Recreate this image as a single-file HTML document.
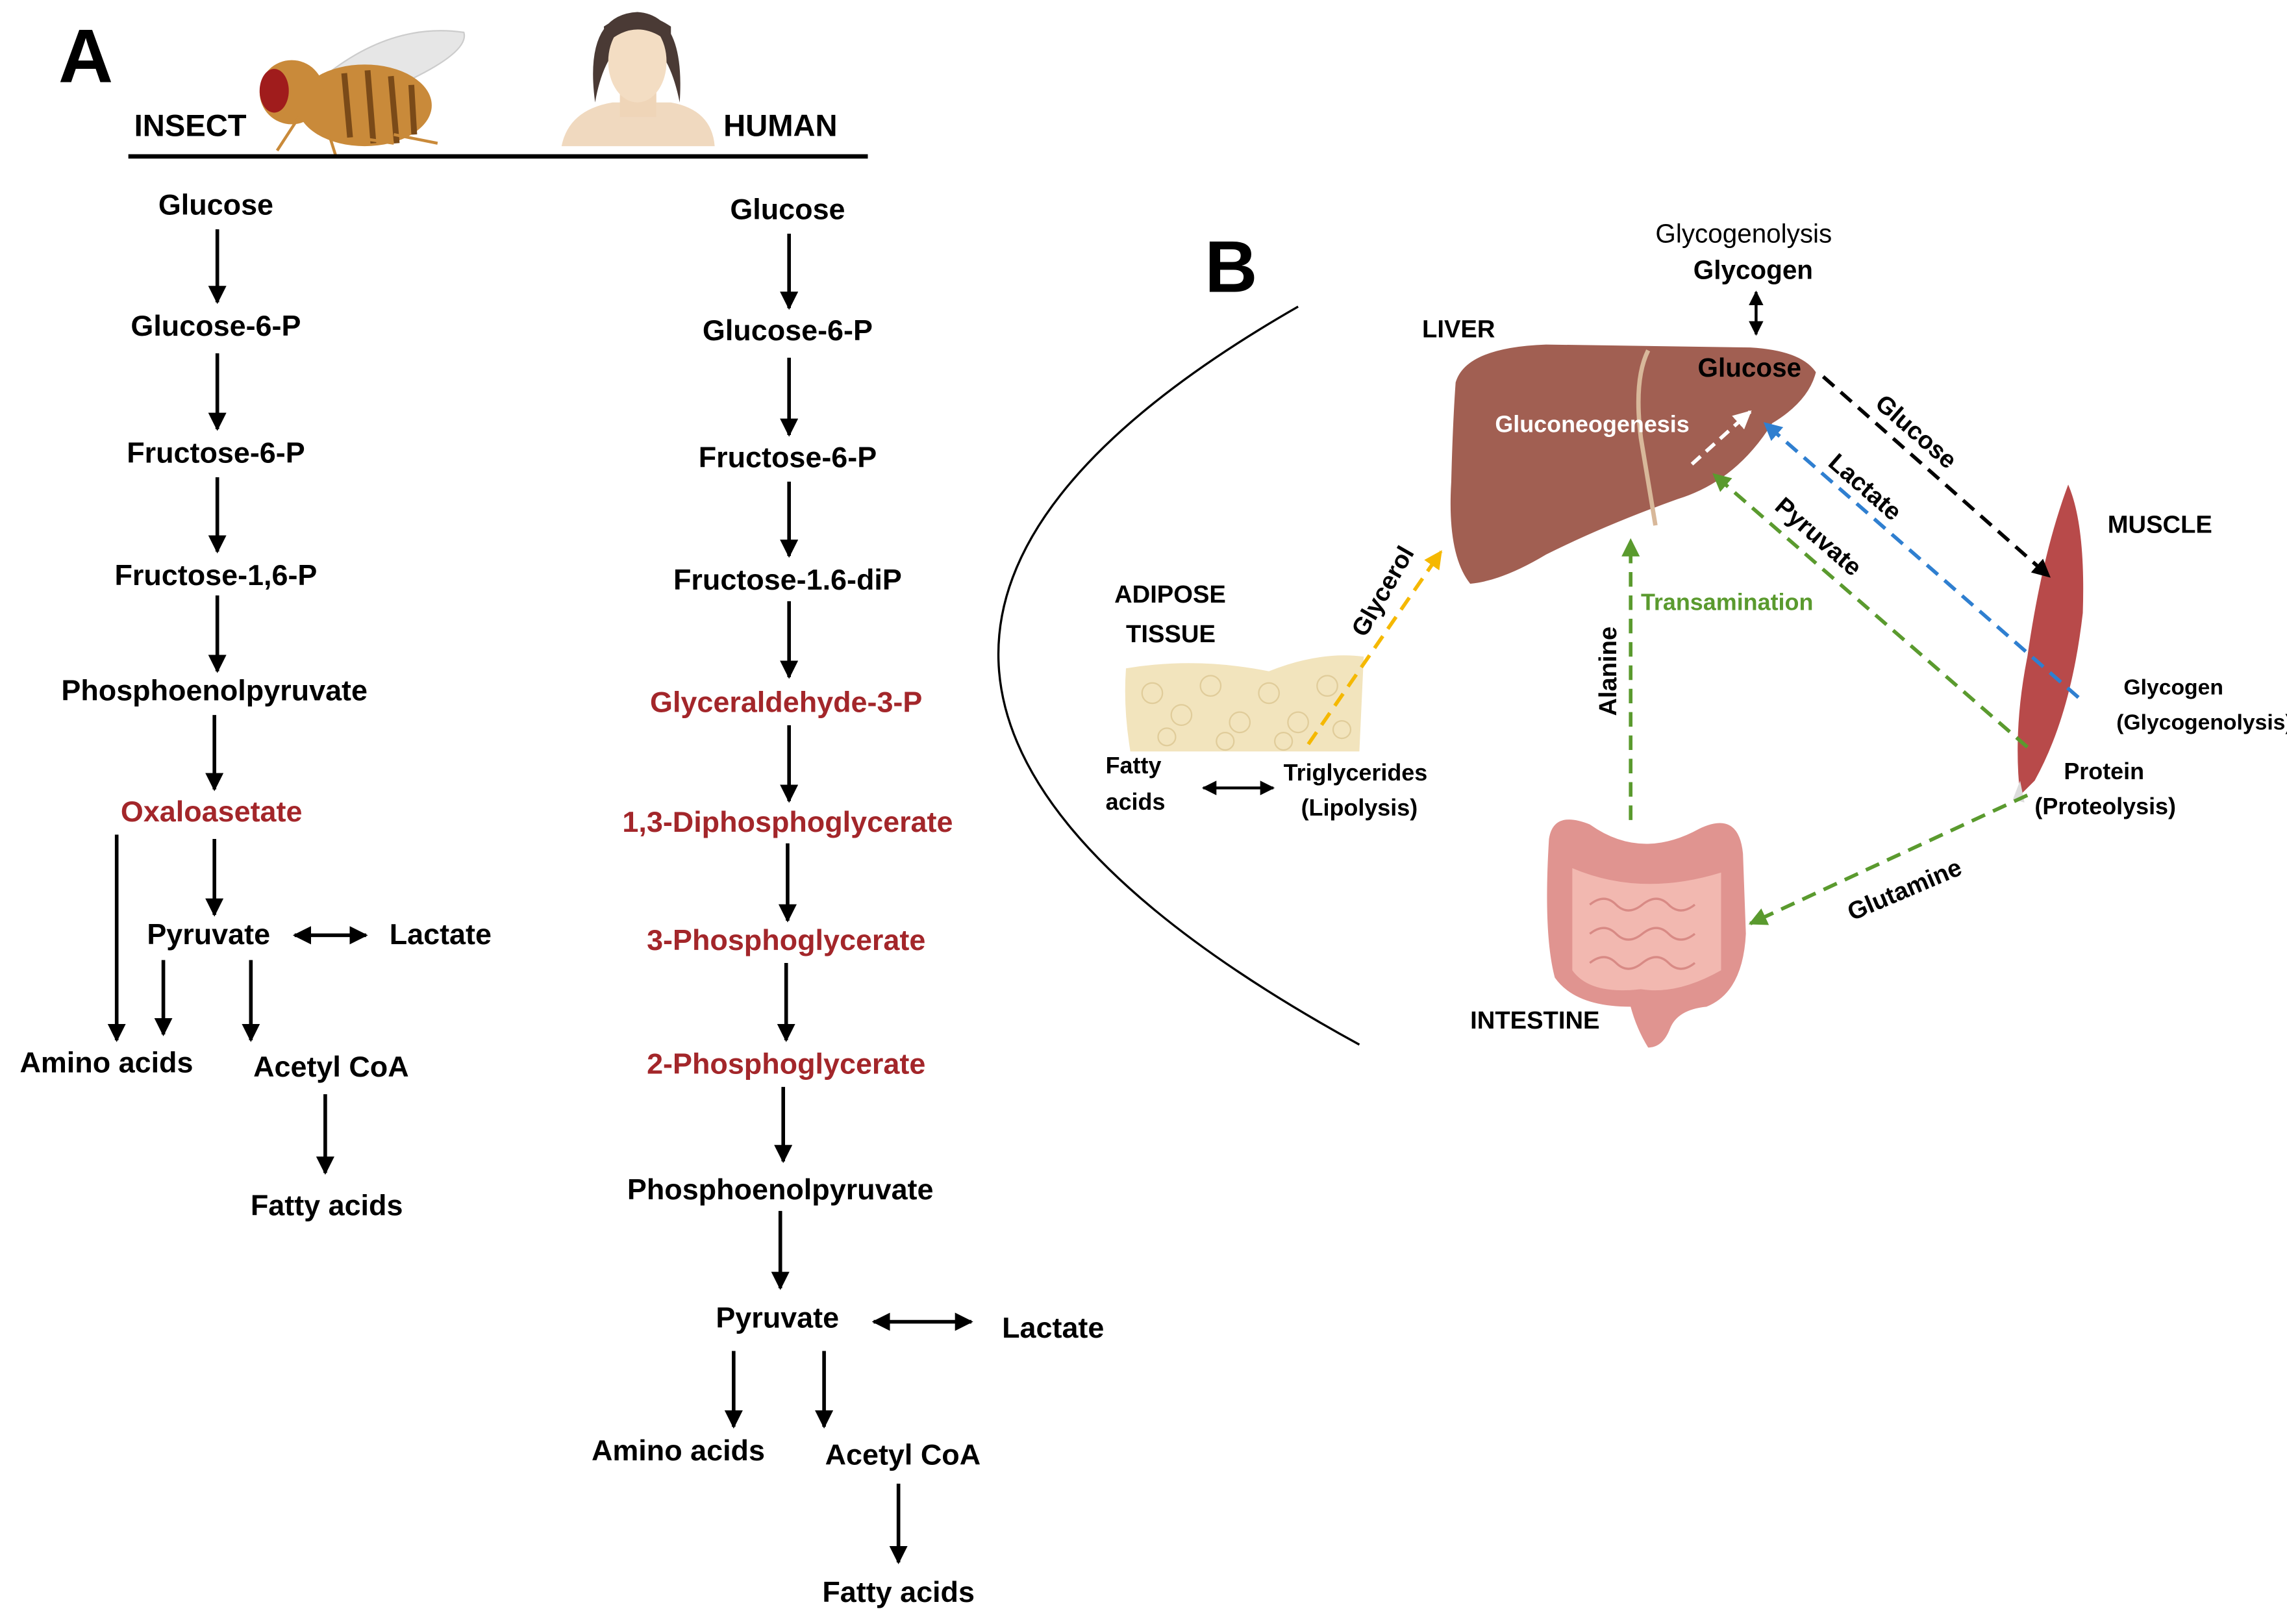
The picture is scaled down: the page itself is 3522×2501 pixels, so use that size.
<!DOCTYPE html>
<html><head><meta charset="utf-8"><style>
html,body{margin:0;padding:0;background:#fff;}
svg{display:block;}
text{font-family:"Liberation Sans",Arial,sans-serif;font-weight:bold;}
</style></head><body>
<svg width="3522" height="2501" viewBox="0 0 1568 1113" xmlns="http://www.w3.org/2000/svg">
<defs>
<marker id="ah" viewBox="0 0 10 10" refX="9" refY="5" markerWidth="5" markerHeight="5" orient="auto-start-reverse" markerUnits="strokeWidth"><path d="M0,0 L10,5 L0,10 z" fill="#000"/></marker>
<marker id="ak" viewBox="0 0 10 10" refX="9" refY="5" markerWidth="5" markerHeight="5" orient="auto-start-reverse"><path d="M0,0 L10,5 L0,10 z" fill="#000"/></marker>
<marker id="ag" viewBox="0 0 10 10" refX="9" refY="5" markerWidth="5" markerHeight="5" orient="auto"><path d="M0,0 L10,5 L0,10 z" fill="#5a9a2e"/></marker>
<marker id="ab" viewBox="0 0 10 10" refX="9" refY="5" markerWidth="5" markerHeight="5" orient="auto"><path d="M0,0 L10,5 L0,10 z" fill="#2f7fd0"/></marker>
<marker id="ay" viewBox="0 0 10 10" refX="9" refY="5" markerWidth="5" markerHeight="5" orient="auto"><path d="M0,0 L10,5 L0,10 z" fill="#f5b800"/></marker>
<marker id="aw" viewBox="0 0 10 10" refX="9" refY="5" markerWidth="5" markerHeight="5" orient="auto"><path d="M0,0 L10,5 L0,10 z" fill="#fff"/></marker>
</defs>

<text x="40" y="56" font-size="52" fill="#000">A</text>
<g>
<path d="M225,50 Q270,15 318,22 Q322,35 280,55 Q245,65 225,50z" fill="#e6e6e6" stroke="#ccc"/>
<ellipse cx="250" cy="72" rx="46" ry="28" fill="#c98a3a"/>
<path d="M236,50 L240,94 M252,48 L256,98 M268,52 L272,98 M282,58 L284,92" stroke="#7a4a18" stroke-width="4"/>
<ellipse cx="200" cy="63" rx="22" ry="22" fill="#c98a3a"/>
<ellipse cx="188" cy="62" rx="10" ry="15" fill="#a01c1c"/>
<path d="M205,80 L190,103 M225,90 L230,106 M250,95 L270,98 M270,92 L300,98" stroke="#c98a3a" stroke-width="2" fill="none"/>
</g>
<g>
<path d="M385,100 Q390,75 420,70 L460,70 Q488,75 490,100 z" fill="#f0d9bf"/>
<rect x="425" y="55" width="25" height="25" fill="#efd5b8"/>
<path d="M408,70 Q400,10 437,8 Q470,10 466,70 Q458,30 437,25 Q415,30 408,70z" fill="#4a3a35"/>
<ellipse cx="437" cy="42" rx="20" ry="28" fill="#f3ddc3"/>
<path d="M415,30 Q437,10 460,30 L460,18 Q437,2 414,18z" fill="#4a3a35"/>
</g>
<text x="92" y="93" font-size="21">INSECT</text>
<text x="496" y="93" font-size="21">HUMAN</text>
<line x1="88" y1="107" x2="595" y2="107" stroke="#000" stroke-width="3"/>

<g font-size="20" text-anchor="middle" fill="#000">
<text x="148" y="147">Glucose</text>
<text x="148" y="230">Glucose-6-P</text>
<text x="148" y="317">Fructose-6-P</text>
<text x="148" y="401">Fructose-1,6-P</text>
<text x="147" y="480">Phosphoenolpyruvate</text>
<text x="145" y="563" fill="#a3262a">Oxaloasetate</text>
<text x="143" y="647">Pyruvate</text>
<text x="302" y="647">Lactate</text>
<text x="73" y="735">Amino acids</text>
<text x="227" y="738">Acetyl CoA</text>
<text x="224" y="833">Fatty acids</text>
</g>
<g stroke="#000" stroke-width="2.5" marker-end="url(#ah)">
<line x1="149" y1="157" x2="149" y2="207"/>
<line x1="149" y1="242" x2="149" y2="294"/>
<line x1="149" y1="327" x2="149" y2="378"/>
<line x1="149" y1="408" x2="149" y2="460"/>
<line x1="147" y1="490" x2="147" y2="541"/>
<line x1="147" y1="575" x2="147" y2="627"/>
<line x1="80" y1="572" x2="80" y2="713"/>
<line x1="112" y1="658" x2="112" y2="709"/>
<line x1="172" y1="658" x2="172" y2="713"/>
<line x1="223" y1="750" x2="223" y2="804"/>
<line x1="202" y1="641" x2="251" y2="641" marker-start="url(#ah)"/>
</g>

<g font-size="20" text-anchor="middle" fill="#000">
<text x="540" y="150">Glucose</text>
<text x="540" y="233">Glucose-6-P</text>
<text x="540" y="320">Fructose-6-P</text>
<text x="540" y="404">Fructose-1.6-diP</text>
<text x="539" y="488" fill="#a3262a">Glyceraldehyde-3-P</text>
<text x="540" y="570" fill="#a3262a">1,3-Diphosphoglycerate</text>
<text x="539" y="651" fill="#a3262a">3-Phosphoglycerate</text>
<text x="539" y="736" fill="#a3262a">2-Phosphoglycerate</text>
<text x="535" y="822">Phosphoenolpyruvate</text>
<text x="533" y="910">Pyruvate</text>
<text x="722" y="917">Lactate</text>
<text x="465" y="1001">Amino acids</text>
<text x="619" y="1004">Acetyl CoA</text>
<text x="616" y="1098">Fatty acids</text>
</g>
<g stroke="#000" stroke-width="2.5" marker-end="url(#ah)">
<line x1="541" y1="160" x2="541" y2="211"/>
<line x1="541" y1="245" x2="541" y2="298"/>
<line x1="541" y1="330" x2="541" y2="381"/>
<line x1="541" y1="412" x2="541" y2="464"/>
<line x1="541" y1="497" x2="541" y2="549"/>
<line x1="540" y1="578" x2="540" y2="631"/>
<line x1="539" y1="660" x2="539" y2="713"/>
<line x1="537" y1="745" x2="537" y2="796"/>
<line x1="535" y1="830" x2="535" y2="883"/>
<line x1="503" y1="926" x2="503" y2="978"/>
<line x1="565" y1="926" x2="565" y2="978"/>
<line x1="616" y1="1017" x2="616" y2="1071"/>
<line x1="599" y1="906" x2="666" y2="906" marker-start="url(#ah)"/>
</g>

<text x="826" y="200" font-size="50">B</text>
<path d="M890,210 Q459,457 932,716" fill="none" stroke="#000" stroke-width="1.5"/>

<path d="M998,262 Q1005,238 1060,236 L1200,238 Q1235,240 1245,255 Q1240,275 1215,290 Q1190,330 1150,342 Q1100,360 1060,380 Q1030,398 1008,400 Q992,380 995,330 Q996,290 998,262z" fill="#a15f52"/>
<path d="M1130,240 Q1120,260 1125,300 Q1130,330 1135,360" stroke="#d8b89a" stroke-width="3" fill="none"/>
<text x="975" y="231" font-size="17">LIVER</text>
<text x="1135" y="166" font-size="18" style="font-weight:normal">Glycogenolysis</text>
<text x="1161" y="191" font-size="18">Glycogen</text>
<line x1="1204" y1="200" x2="1204" y2="229" stroke="#000" stroke-width="2" marker-start="url(#ak)" marker-end="url(#ak)"/>
<text x="1164" y="258" font-size="18">Glucose</text>
<text x="1025" y="296" font-size="16" fill="#fff">Gluconeogenesis</text>
<line x1="1160" y1="318" x2="1200" y2="282" stroke="#fff" stroke-width="2.5" stroke-dasharray="8,5" marker-end="url(#aw)"/>

<path d="M1418,332 Q1430,360 1428,420 Q1420,490 1395,535 L1385,545 Q1380,500 1390,450 Q1400,380 1418,332z" fill="#b84a4a"/>
<path d="M1385,535 L1380,548 L1388,550z" fill="#ddd"/>
<text x="1445" y="365" font-size="17">MUSCLE</text>
<text x="1456" y="476" font-size="15">Glycogen</text>
<text x="1451" y="500" font-size="15">(Glycogenolysis)</text>
<text x="1415" y="534" font-size="16">Protein</text>
<text x="1395" y="558" font-size="16">(Proteolysis)</text>

<text x="764" y="413" font-size="17">ADIPOSE</text>
<text x="772" y="440" font-size="17">TISSUE</text>
<path d="M772,458 Q820,450 870,460 Q905,446 935,450 L932,515 L775,515 Q770,485 772,458z" fill="#f2e4bd"/>
<g fill="none" stroke="#e0cc9a" stroke-width="1">
<circle cx="790" cy="475" r="7"/><circle cx="810" cy="490" r="7"/><circle cx="830" cy="470" r="7"/><circle cx="850" cy="495" r="7"/><circle cx="870" cy="475" r="7"/><circle cx="890" cy="495" r="7"/><circle cx="910" cy="470" r="7"/><circle cx="800" cy="505" r="6"/><circle cx="840" cy="508" r="6"/><circle cx="880" cy="508" r="6"/><circle cx="920" cy="500" r="6"/>
</g>
<text x="758" y="530" font-size="16">Fatty</text>
<text x="758" y="555" font-size="16">acids</text>
<line x1="825" y1="540" x2="873" y2="540" stroke="#000" stroke-width="2" marker-start="url(#ak)" marker-end="url(#ak)"/>
<text x="880" y="535" font-size="16">Triglycerides</text>
<text x="892" y="559" font-size="16">(Lipolysis)</text>

<g>
<path d="M1062,575 Q1065,555 1090,565 Q1125,590 1165,568 Q1192,555 1195,585 L1197,640 Q1195,680 1170,690 Q1150,692 1145,705 Q1140,718 1130,718 Q1122,705 1118,690 Q1080,690 1066,670 Q1058,640 1062,575z" fill="#e09490"/>
<path d="M1078,595 Q1125,615 1180,598 L1180,665 Q1150,682 1125,678 Q1090,682 1078,665z" fill="#f2b8b0"/>
<path d="M1090,620 q10,-8 18,0 t18,0 t18,0 t18,0 M1090,640 q10,-8 18,0 t18,0 t18,0 t18,0 M1090,660 q10,-8 18,0 t18,0 t18,0 t18,0" stroke="#d88a85" stroke-width="1.5" fill="none"/>
</g>
<text x="1008" y="705" font-size="17">INTESTINE</text>

<line x1="1250" y1="258" x2="1405" y2="395" stroke="#000" stroke-width="2.5" stroke-dasharray="10,6" marker-end="url(#ak)"/>
<line x1="1425" y1="478" x2="1210" y2="290" stroke="#2f7fd0" stroke-width="2.5" stroke-dasharray="10,6" marker-end="url(#ab)"/>
<line x1="1390" y1="512" x2="1175" y2="325" stroke="#5a9a2e" stroke-width="2.5" stroke-dasharray="10,6" marker-end="url(#ag)"/>
<line x1="1118" y1="562" x2="1118" y2="370" stroke="#5a9a2e" stroke-width="2.5" stroke-dasharray="10,6" marker-end="url(#ag)"/>
<line x1="1390" y1="545" x2="1200" y2="633" stroke="#5a9a2e" stroke-width="2.5" stroke-dasharray="10,6" marker-end="url(#ag)"/>
<line x1="897" y1="510" x2="988" y2="378" stroke="#f5b800" stroke-width="2.5" stroke-dasharray="10,6" marker-end="url(#ay)"/>

<text x="1125" y="418" font-size="16" fill="#5a9a2e">Transamination</text>
<text font-size="17" text-anchor="middle" transform="translate(1310,300) rotate(41)">Glucose</text>
<text font-size="17" text-anchor="middle" transform="translate(1275,338) rotate(41)">Lactate</text>
<text font-size="17" text-anchor="middle" transform="translate(1243,372) rotate(41)">Pyruvate</text>
<text font-size="17" text-anchor="middle" transform="translate(1108,460) rotate(-90)">Alanine</text>
<text font-size="17" text-anchor="middle" transform="translate(953,408) rotate(-60)">Glycerol</text>
<text font-size="17" text-anchor="middle" transform="translate(1308,615) rotate(-23)">Glutamine</text>
</svg>
</body></html>
